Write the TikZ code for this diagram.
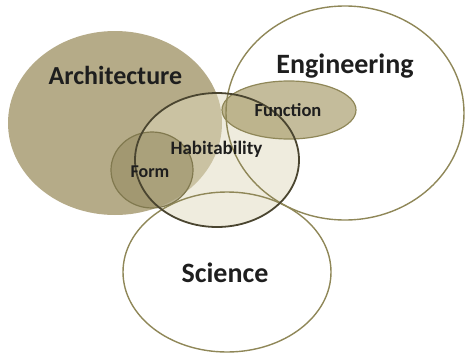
\documentclass[tikz,border=0pt]{standalone}
\usepackage{fontspec}
\setmainfont{Carlito}
\definecolor{archfill}{RGB}{181,171,136}
\definecolor{habfill}{RGB}{223,217,189}
\definecolor{formfill}{RGB}{150,140,98}
\definecolor{funcfill}{RGB}{157,143,88}
\definecolor{olive}{RGB}{143,135,88}
\definecolor{darkline}{RGB}{74,69,48}
\definecolor{txt}{RGB}{30,30,30}
\tikzset{
  outline/.style={draw=olive, line width=1.4pt},
  darkoutline/.style={draw=darkline, line width=1.8pt},
  bigtext/.style={font=\bfseries\fontsize{28}{30}\selectfont, text=txt, anchor=base, inner sep=0pt},
  smalltext/.style={font=\bfseries\fontsize{18.5}{20}\selectfont, text=txt, anchor=base, inner sep=0pt}
}
\begin{document}
\begin{tikzpicture}[x=1pt,y=-1pt]
\useasboundingbox (0,0) rectangle (466,356);
% fills
\fill[archfill] (115,123) ellipse [x radius=107, y radius=92];
\fill[habfill, opacity=0.5] (217,160) ellipse [x radius=82, y radius=67];
\fill[formfill, opacity=0.6] (152,170) ellipse [x radius=41, y radius=38];
\fill[funcfill, opacity=0.6] (289,110) ellipse [x radius=67, y radius=29];
% outlines
\draw[outline] (345,113) ellipse [x radius=119, y radius=107];
\draw[outline] (227,272) ellipse [x radius=104, y radius=80];
\draw[outline, draw=olive!90!black, line width=1.2pt] (152,170) ellipse [x radius=41, y radius=38];
\draw[outline, line width=1.2pt] (289,110) ellipse [x radius=67, y radius=29];
\draw[darkoutline] (217,160) ellipse [x radius=82, y radius=67];
% labels
\node[bigtext, font=\bfseries\fontsize{26}{28}\selectfont] (arch) at (115.5,84) {Architecture};
\node[bigtext] (eng) at (345,73) {Engineering};
\node[bigtext] (sci) at (225,282) {Science};
\node[smalltext, font=\bfseries\fontsize{19}{21}\selectfont] (hab) at (216.5,154) {Habitability};
\node[smalltext, font=\bfseries\fontsize{18}{20}\selectfont] (form) at (150,177) {Form};
\node[smalltext] (func) at (288,116) {Function};
\end{tikzpicture}
\end{document}
